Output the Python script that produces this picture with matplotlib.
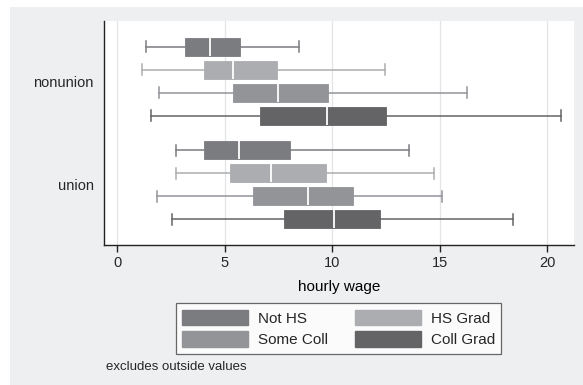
import matplotlib.pyplot as plt
from matplotlib.patches import Rectangle, Patch

plt.rcParams['font.family'] = ['Liberation Sans', 'DejaVu Sans']
plt.rcParams['text.color'] = '#262626'
plt.rcParams['xtick.labelcolor'] = '#262626'
plt.rcParams['ytick.labelcolor'] = '#262626'

groups = ["nonunion", "union"]
educ = ["Not HS", "HS Grad", "Some Coll", "Coll Grad"]
colors = ["#7b7c80", "#acadb0", "#939498", "#646466"]

# box stats: whisker low, q1, median, q3, whisker high
nonunion_stats = [
    [1.35, 3.15, 4.31, 5.70, 8.46],
    [1.16, 4.02, 5.40, 7.42, 12.43],
    [1.94, 5.40, 7.45, 9.81, 16.25],
    [1.55, 6.63, 9.75, 12.51, 20.65],
]
union_stats = [
    [2.72, 4.05, 5.68, 8.04, 13.55],
    [2.72, 5.26, 7.16, 9.70, 14.72],
    [1.82, 6.29, 8.85, 10.96, 15.11],
    [2.53, 7.73, 10.06, 12.23, 18.40],
]
xticks = [0, 5, 10, 15, 20]

fig = plt.figure(figsize=(5.83, 3.85), dpi=100)
fig.patch.set_facecolor("white")
fig.patches.append(Rectangle((10 / 583, 0), 1, 1 - 7 / 385, transform=fig.transFigure,
                             facecolor="#eeeff1", edgecolor="none", zorder=-10))

ax = fig.add_axes([103.5 / 583, 1 - 245 / 385, (574 - 103.5) / 583, (245 - 21) / 385])
ax.set_facecolor("white")

bxp = []
positions = []
for gi, stats in enumerate([nonunion_stats, union_stats]):
    for i, s in enumerate(stats):
        bxp.append(dict(whislo=s[0], q1=s[1], med=s[2], q3=s[3], whishi=s[4], fliers=[]))
        positions.append(gi * 4.5 + i)

h = 0.78
res = ax.bxp(bxp, positions=positions, widths=h, vert=False, patch_artist=True,
             showfliers=False, manage_ticks=False)
for k, box in enumerate(res["boxes"]):
    c = colors[k % 4]
    box.set_facecolor(c)
    box.set_edgecolor(c)
    box.set_linewidth(0.6)
for m in res["medians"]:
    m.set_color("white")
    m.set_linewidth(1.3)
for k, w in enumerate(res["whiskers"]):
    w.set_color(colors[(k // 2) % 4])
    w.set_linewidth(1.1)
for k, cap in enumerate(res["caps"]):
    cap.set_color(colors[(k // 2) % 4])
    cap.set_linewidth(1.1)
    y = cap.get_ydata()
    mid = (y[0] + y[1]) / 2
    cap.set_ydata([mid - 0.24, mid + 0.24])

ax.set_ylim(8.62, -1.12)
ax.set_xlim(-0.65, 21.25)
ax.set_yticks([1.5, 6.0])
ax.set_yticklabels(groups, fontsize=10.5)
ax.tick_params(axis="y", length=0, pad=7)
ax.set_xticks(xticks)
ax.set_xticklabels([str(t) for t in xticks], fontsize=10.5)
ax.tick_params(axis="x", length=5, width=1, color="#222222", pad=3)
ax.grid(axis="x", color="#e3e4e6", linewidth=0.9)
ax.set_axisbelow(True)
for side in ["top", "right"]:
    ax.spines[side].set_visible(False)
for side in ["left", "bottom"]:
    ax.spines[side].set_color("#222222")
    ax.spines[side].set_linewidth(1)
ax.set_xlabel("hourly wage", fontsize=11, labelpad=7)

handles = [Patch(facecolor=c, edgecolor=c) for c in colors]
order = [0, 2, 1, 3]
leg = fig.legend([handles[i] for i in order], [educ[i] for i in order], ncol=2,
                 loc="center", bbox_to_anchor=(338.5 / 583, 1 - 328.5 / 385),
                 fontsize=11, frameon=True, fancybox=False, handlelength=4.3,
                 handleheight=1.15, columnspacing=1.8, handletextpad=0.65,
                 borderpad=0.42, labelspacing=0.38)
leg.get_frame().set_edgecolor("#444444")
leg.get_frame().set_linewidth(0.9)

fig.text(106 / 583, 1 - 367 / 385, "excludes outside values", fontsize=9.5, va="center")

fig.savefig("out.png", dpi=100, facecolor=fig.get_facecolor())
